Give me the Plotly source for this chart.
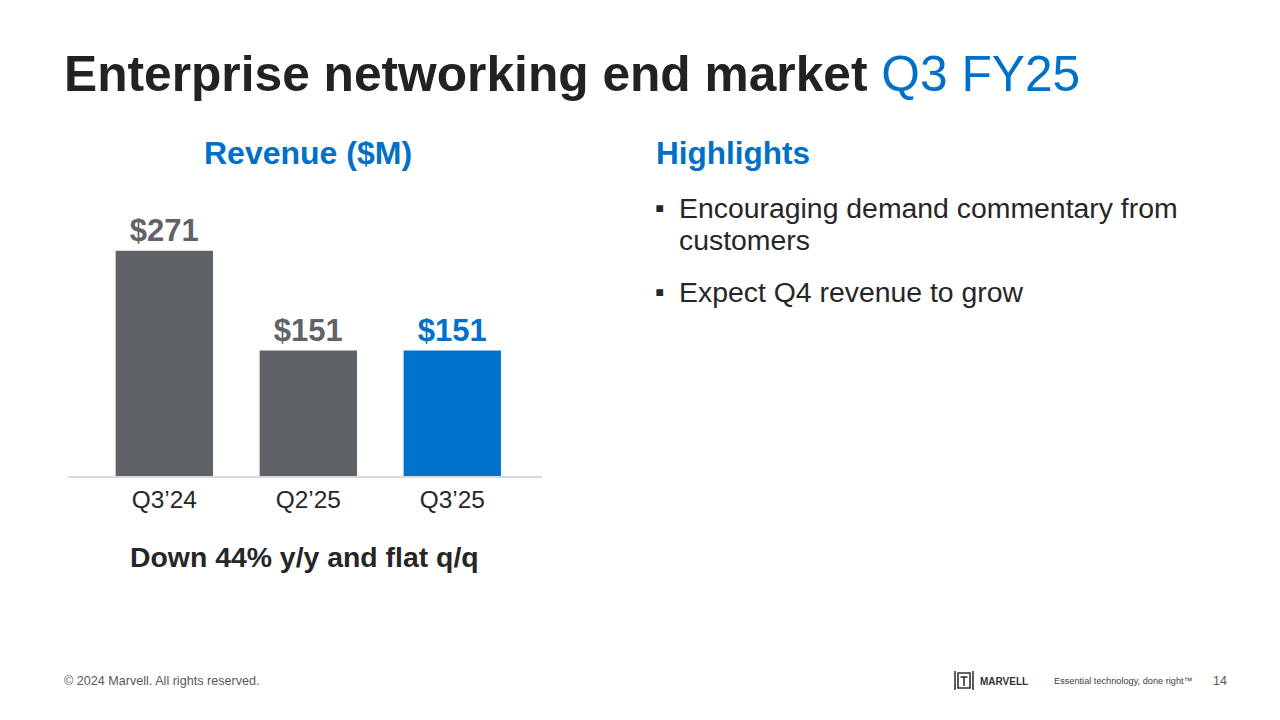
import plotly.graph_objects as go

# chart data
QUARTERS = ["Q3\u201924", "Q2\u201925", "Q3\u201925"]
REVENUE = [271, 151, 151]
BAR_COLORS = ["#5f6266", "#5f6266", "#0072ce"]
LABEL_COLORS = ["#606368", "#606368", "#0070cc"]

HIGHLIGHTS = [
    ["Encouraging demand commentary from", "customers"],
    ["Expect Q4 revenue to grow"],
]

W, H = 1280, 720
BLUE = "#0070c8"
DARK = "#222222"
FONT = "Arial, Liberation Sans, sans-serif"


def px(x):
    return x / W


def py(y):
    return 1 - y / H


fig = go.Figure()
fig.add_trace(
    go.Bar(
        x=QUARTERS,
        y=REVENUE,
        marker={"color": BAR_COLORS, "line": {"width": 0}},
        texttemplate="$%{y}",
        textposition="outside",
        textfont={"size": 31, "color": LABEL_COLORS, "family": FONT, "weight": "bold"},
        cliponaxis=False,
        hoverinfo="skip",
    )
)

annotations = [
    dict(x=px(62), y=py(74), xanchor="left", yanchor="middle",
         text="<b>Enterprise networking end market</b> <span style='color:%s'>Q3 FY25</span>" % BLUE,
         font={"size": 49.7, "color": DARK}),
    dict(x=px(308), y=py(153), xanchor="center", yanchor="middle",
         text="<b>Revenue ($M)</b>", font={"size": 32, "color": BLUE}),
    dict(x=px(654), y=py(153), xanchor="left", yanchor="middle",
         text="<b>Highlights</b>", font={"size": 31.5, "color": BLUE}),
    dict(x=px(304), y=py(557), xanchor="center", yanchor="middle",
         text="<b>Down 44% y/y and flat q/q</b>", font={"size": 28.4, "color": "#262626"}),
    dict(x=px(62), y=py(681), xanchor="left", yanchor="middle",
         text="\u00a9 2024 Marvell. All rights reserved.", font={"size": 12.6, "color": "#595959"}),
    dict(x=px(978), y=py(681), xanchor="left", yanchor="middle",
         text="<b>MARVELL</b>", font={"size": 10, "color": "#333333"}),
    dict(x=px(1052), y=py(681), xanchor="left", yanchor="middle",
         text="Essential technology, done right\u2122", font={"size": 9.2, "color": "#404040"}),
    dict(x=px(1211), y=py(681), xanchor="left", yanchor="middle",
         text="14", font={"size": 12.5, "color": "#595959"}),
]

line_y = 208
for item in HIGHLIGHTS:
    annotations.append(dict(x=px(653), y=py(line_y), xanchor="left", yanchor="middle",
                            text="\u25aa", font={"size": 27, "color": "#262626"}))
    for line in item:
        annotations.append(dict(x=px(677), y=py(line_y), xanchor="left", yanchor="middle",
                                text=line, font={"size": 28.4, "color": "#262626"}))
        line_y += 32
    line_y += 20

for a in annotations:
    a.update(xref="paper", yref="paper", showarrow=False)

# logo mark
logo_color = "#333333"
shapes = [
    dict(type="line", x0=px(955), x1=px(955), y0=py(671), y1=py(690)),
    dict(type="line", x0=px(973), x1=px(973), y0=py(671), y1=py(690)),
    dict(type="rect", x0=px(958), x1=px(970), y0=py(673), y1=py(688)),
    dict(type="line", x0=px(960.5), x1=px(967.5), y0=py(677), y1=py(677)),
    dict(type="line", x0=px(964), x1=px(964), y0=py(677), y1=py(686)),
]
for s in shapes:
    s.update(xref="paper", yref="paper", line={"color": logo_color, "width": 1.6})

fig.update_layout(
    width=W,
    height=H,
    margin={"l": 0, "r": 0, "t": 0, "b": 0},
    paper_bgcolor="white",
    plot_bgcolor="white",
    font={"family": FONT},
    showlegend=False,
    bargap=0.324,
    annotations=annotations,
    shapes=shapes,
    xaxis={
        "domain": [px(68), px(542)],
        "range": [-0.669, 2.623],
        "showline": True,
        "linecolor": "#d9d9d9",
        "linewidth": 2,
        "showgrid": False,
        "zeroline": False,
        "ticks": "",
        "tickfont": {"size": 24.4, "color": "#262626"},
        "ticklabelstandoff": 1,
        "fixedrange": True,
    },
    yaxis={
        "domain": [py(476), py(226.7)],
        "range": [0, 300],
        "visible": False,
        "fixedrange": True,
    },
)

# page body has a default margin; drop it so the figure sits at the window origin
fig.write_html("out.html", post_script="document.body.style.margin='0';",
               config={"displayModeBar": False})
